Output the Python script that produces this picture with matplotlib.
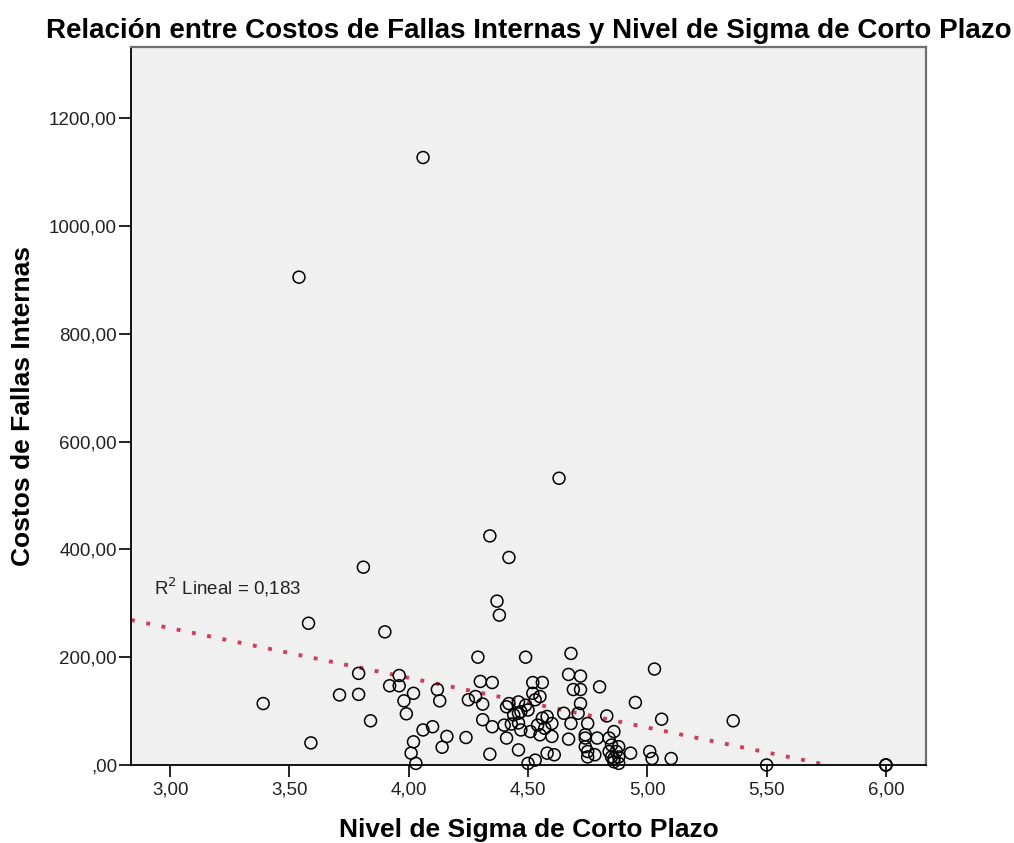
import matplotlib
matplotlib.use("Agg")
import matplotlib.pyplot as plt
import numpy as np
from matplotlib.ticker import FixedLocator

# ---- data ----
sigma = [3.39, 3.54, 3.58, 3.59, 3.71, 3.79, 3.79, 3.81, 3.84, 3.90,
         3.92, 3.96, 3.96, 3.98, 3.99, 4.02, 4.02, 4.01, 4.03, 4.06,
         4.10, 4.06, 4.12, 4.13, 4.14, 4.16, 4.25, 4.24, 4.28, 4.29,
         4.30, 4.31, 4.31, 4.34, 4.35, 4.35, 4.34, 4.37, 4.38, 4.42,
         4.40, 4.41, 4.42, 4.41, 4.43, 4.44, 4.46, 4.46, 4.46, 4.46,
         4.47, 4.47, 4.49, 4.49, 4.50, 4.50, 4.51, 4.52, 4.52, 4.53,
         4.53, 4.54, 4.55, 4.55, 4.56, 4.56, 4.57, 4.58, 4.58, 4.60,
         4.60, 4.61, 4.63, 4.65, 4.67, 4.68, 4.69, 4.68, 4.67, 4.71,
         4.72, 4.72, 4.72, 4.74, 4.75, 4.74, 4.74, 4.75, 4.75, 4.78,
         4.79, 4.80, 4.83, 4.84, 4.86, 4.85, 4.84, 4.87, 4.88, 4.85,
         4.86, 4.88, 4.86, 4.88, 4.93, 4.95, 5.01, 5.02, 5.03, 5.06,
         5.10, 5.36, 5.50, 6.00, 6.00, 6.00]
costos = [114, 905, 263, 41, 130, 170, 131, 367, 82, 247,
          147, 166, 147, 119, 95, 133, 43, 22, 3, 65,
          71, 1127, 140, 119, 33, 53, 121, 51, 127, 200,
          155, 113, 84, 425, 153, 71, 20, 304, 278, 385,
          74, 108, 114, 50, 76, 93, 117, 96, 78, 28,
          99, 65, 200, 111, 102, 3, 62, 133, 153, 9,
          121, 74, 127, 56, 153, 87, 68, 90, 22, 77,
          53, 19, 532, 96, 168, 207, 140, 77, 48, 96,
          165, 140, 114, 56, 77, 50, 34, 25, 15, 19,
          50, 145, 91, 50, 62, 37, 25, 25, 34, 15,
          12, 15, 6, 3, 22, 116, 25, 12, 178, 85,
          12, 82, 0, 0, 0, 0]

fit_intercept = 530.5
fit_slope = -92.2
r2_text = "R$^2$ Lineal = 0,183"

x_ticks = [3.0, 3.5, 4.0, 4.5, 5.0, 5.5, 6.0]
x_tick_labels = ["3,00", "3,50", "4,00", "4,50", "5,00", "5,50", "6,00"]
y_ticks = [0, 200, 400, 600, 800, 1000, 1200]
y_tick_labels = [",00", "200,00", "400,00", "600,00", "800,00", "1000,00", "1200,00"]

title = "Relación entre Costos de Fallas Internas y Nivel de Sigma de Corto Plazo"
x_label = "Nivel de Sigma de Corto Plazo"
y_label = "Costos de Fallas Internas"

# ---- figure ----
plt.rcParams['font.family'] = ['Liberation Sans', 'DejaVu Sans']
fig = plt.figure(figsize=(10.14, 8.43), dpi=100)
fig.patch.set_facecolor('white')
ax = fig.add_axes([131/1014, 1 - 765/843, (926-131)/1014, (765-47)/843])
ax.set_facecolor('#F0F0F0')

xmin, xmax = 2.836, 6.168
ymin, ymax = 0, 1332
ax.set_xlim(xmin, xmax)
ax.set_ylim(ymin, ymax)

# fit line (clipped at y = 0)
x_end = -fit_intercept / fit_slope
xl = np.array([xmin, x_end])
yl = fit_intercept + fit_slope * xl
ax.plot(xl, yl, color='#D23C5C', lw=2.8, linestyle=(0, (1, 3.0)),
        dash_capstyle='butt', zorder=2, clip_on=True)

ax.scatter(sigma, costos, s=74, facecolors='none', edgecolors='black',
           linewidths=1.1, zorder=3, clip_on=False)

ax.text(2.933, 330, r2_text, fontsize=13.5, va='center', ha='left', color='#222222')

ax.xaxis.set_major_locator(FixedLocator(x_ticks))
ax.set_xticklabels(x_tick_labels)
ax.yaxis.set_major_locator(FixedLocator(y_ticks))
ax.set_yticklabels(y_tick_labels)
ax.tick_params(axis='both', direction='out', length=8.5, width=1.2,
               labelsize=13.5, colors='black', labelcolor='#222222', pad=1.5)
ax.tick_params(axis='x', pad=3.5)
ax.tick_params(top=False, right=False)

for s in ['left', 'bottom']:
    ax.spines[s].set_color('black')
    ax.spines[s].set_linewidth(1.3)
for s in ['top', 'right']:
    ax.spines[s].set_color('#707070')
    ax.spines[s].set_linewidth(1.6)

ax.set_xlabel(x_label, fontsize=19, fontweight='bold', labelpad=14)
ax.set_ylabel(y_label, fontsize=19, fontweight='bold', labelpad=10)
ax.set_title(title, fontsize=20, fontweight='bold', pad=6.5)

fig.savefig("out.png", dpi=100, facecolor='white')
